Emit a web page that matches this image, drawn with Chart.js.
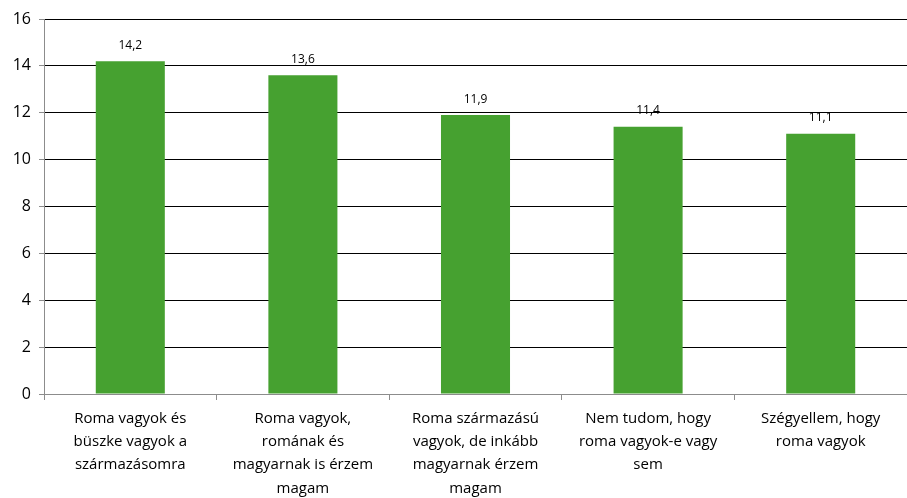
<!DOCTYPE html>
<html>
<head>
<meta charset="utf-8">
<script src="https://cdn.jsdelivr.net/npm/chart.js@4"></script>
<style>
  html, body { margin: 0; padding: 0; background: #fff; }
  #wrap { width: 907px; height: 498px; }
</style>
</head>
<body>
<div id="wrap"><canvas id="c" width="907" height="498"></canvas></div>
<script>
// Values
const categories = [
  ["Roma vagyok és", "büszke vagyok a", "származásomra"],
  ["Roma vagyok,", "romának és", "magyarnak is érzem", "magam"],
  ["Roma származású", "vagyok, de inkább", "magyarnak érzem", "magam"],
  ["Nem tudom, hogy", "roma vagyok-e vagy", "sem"],
  ["Szégyellem, hogy", "roma vagyok"],
];
const values = [14.2, 13.6, 11.9, 11.4, 11.1];
const yTicks = [0, 2, 4, 6, 8, 10, 12, 14, 16];

const FONT = "'Open Sans', 'DejaVu Sans', sans-serif";
const GREEN = "#46a130";
const GREY = "#8c8c8c";

// value labels above each bar, comma as decimal separator
const barLabels = {
  id: "barLabels",
  afterDatasetsDraw(chart) {
    const ctx = chart.ctx;
    const meta = chart.getDatasetMeta(0);
    ctx.save();
    ctx.font = `12px ${FONT}`;
    ctx.fillStyle = "#000";
    ctx.textAlign = "center";
    ctx.textBaseline = "bottom";
    meta.data.forEach((bar, i) => {
      ctx.fillText(values[i].toFixed(1).replace(".", ","), bar.x, bar.y - 10);
    });
    ctx.restore();
  },
};

new Chart(document.getElementById("c"), {
  type: "bar",
  data: {
    labels: categories,
    datasets: [{
      data: values,
      backgroundColor: GREEN,
      borderWidth: 0,
      categoryPercentage: 1,
      barPercentage: 0.4,
    }],
  },
  options: {
    responsive: false,
    animation: false,
    layout: { padding: { top: 19, right: 0, left: 0, bottom: 0 } },
    plugins: { legend: { display: false }, tooltip: { enabled: false } },
    scales: {
      x: {
        grid: {
          offset: true,
          drawOnChartArea: false,
          color: GREY,
          tickLength: 6,
        },
        border: { color: GREY },
        ticks: {
          color: "#000",
          font: { family: FONT, size: 15, lineHeight: 1.55 },
          padding: 7,
          maxRotation: 0,
          autoSkip: false,
        },
        afterFit(scale) { scale.height = 104; },
      },
      y: {
        min: 0,
        max: 16,
        afterBuildTicks(scale) { scale.ticks = yTicks.map(v => ({ value: v })); },
        grid: {
          color: (c) => (c.tick && c.tick.value === 0 ? GREY : "#000"),
          tickColor: GREY,
          tickLength: 5,
        },
        border: { color: GREY },
        ticks: {
          color: "#000",
          font: { family: FONT, size: 16 },
          padding: 8,
        },
        afterFit(scale) { scale.width = 44; },
      },
    },
  },
  plugins: [barLabels],
});
</script>
</body>
</html>
